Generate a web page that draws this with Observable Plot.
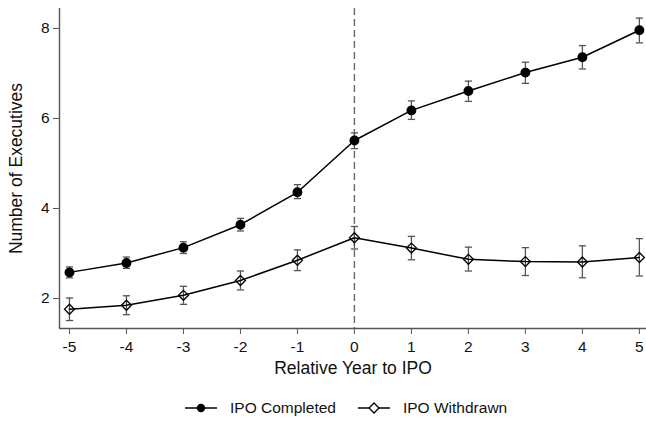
<!DOCTYPE html>
<html>
<head>
<meta charset="utf-8">
<script src="https://cdn.jsdelivr.net/npm/d3@7"></script>
<script src="https://cdn.jsdelivr.net/npm/@observablehq/plot@0.6"></script>
<style>
  html, body { margin: 0; padding: 0; background: #fff; }
  body { width: 646px; height: 421px; position: relative; overflow: hidden; font-family: "Liberation Sans", Arial, sans-serif; }
  #legend { position: absolute; top: 399px; left: 185px; display: flex; align-items: center; font-size: 15.5px; color: #111; }
  .item { display: flex; align-items: center; margin-right: 22px; }
  .item svg { margin-right: 13px; }
</style>
</head>
<body>
<div id="chart"></div>
<div id="legend"></div>
<script>
const years = [-5, -4, -3, -2, -1, 0, 1, 2, 3, 4, 5];
const completed   = [2.58, 2.79, 3.13, 3.64, 4.36, 5.51, 6.18, 6.61, 7.02, 7.36, 7.96];
const completedLo = [2.46, 2.67, 3.00, 3.50, 4.22, 5.33, 5.98, 6.38, 6.78, 7.10, 7.68];
const completedHi = [2.70, 2.92, 3.26, 3.78, 4.53, 5.68, 6.39, 6.83, 7.25, 7.62, 8.23];
const withdrawn   = [1.76, 1.85, 2.07, 2.40, 2.85, 3.35, 3.12, 2.87, 2.82, 2.81, 2.91];
const withdrawnLo = [1.51, 1.64, 1.87, 2.19, 2.62, 3.10, 2.86, 2.61, 2.51, 2.46, 2.50];
const withdrawnHi = [2.01, 2.06, 2.27, 2.61, 3.08, 3.60, 3.38, 3.14, 3.13, 3.17, 3.33];
const seriesNames = ["IPO Completed", "IPO Withdrawn"];
const yTicks = [2, 4, 6, 8];
const xLabel = "Relative Year to IPO";
const yLabel = "Number of Executives";

const rows = [];
years.forEach((yr, i) => {
  rows.push({series: seriesNames[0], x: yr, y: completed[i], lo: completedLo[i], hi: completedHi[i]});
  rows.push({series: seriesNames[1], x: yr, y: withdrawn[i], lo: withdrawnLo[i], hi: withdrawnHi[i]});
});
const rowsC = rows.filter(d => d.series === seriesNames[0]);
const rowsW = rows.filter(d => d.series === seriesNames[1]);

const capSymbol = {
  draw(ctx, size) {
    const r = Math.sqrt(size / Math.PI);
    ctx.moveTo(-r, 0);
    ctx.lineTo(r, 0);
  }
};

const xDomain = [-5.175, 5.125];
const yDomain = [1.333, 8.444];
const axisColor = "#555";
const font = '"Liberation Sans", Arial, sans-serif';

const chart = Plot.plot({
  width: 646,
  height: 385,
  marginLeft: 59,
  marginRight: 0,
  marginTop: 8,
  marginBottom: 57,
  style: {fontFamily: font, color: "#111", background: "#fff"},
  x: {domain: xDomain},
  y: {domain: yDomain},
  marks: [
    Plot.ruleX([0], {stroke: "#6a6a6a", strokeWidth: 1.4, strokeDasharray: "7,4"}),
    Plot.ruleX([xDomain[0]], {stroke: axisColor, strokeWidth: 1.4}),
    Plot.ruleY([yDomain[0]], {stroke: axisColor, strokeWidth: 1.4}),
    Plot.axisY({ticks: yTicks, tickSize: 6, tickPadding: 4, fontSize: 15.5, stroke: axisColor, label: null, tickFormat: d => String(d)}),
    Plot.axisX({ticks: years, tickSize: 6, tickPadding: 6, fontSize: 15.5, stroke: axisColor, label: null, tickFormat: d => String(d)}),
    Plot.text([xLabel], {frameAnchor: "bottom", dy: 45, fontSize: 17.5, fill: "#111", text: d => d}),
    Plot.text([yLabel], {frameAnchor: "left", textAnchor: "middle", dx: -43, rotate: -90, fontSize: 17.5, fill: "#111", text: d => d}),
    // error bars
    Plot.ruleX(rows, {x: "x", y1: "lo", y2: "hi", stroke: axisColor, strokeWidth: 1.3}),
    Plot.dot(rows, {x: "x", y: "lo", symbol: capSymbol, r: 3.6, stroke: axisColor, strokeWidth: 1.3, fill: "none"}),
    Plot.dot(rows, {x: "x", y: "hi", symbol: capSymbol, r: 3.6, stroke: axisColor, strokeWidth: 1.3, fill: "none"}),
    // lines
    Plot.line(rowsC, {x: "x", y: "y", stroke: "#000", strokeWidth: 1.5}),
    Plot.line(rowsW, {x: "x", y: "y", stroke: "#000", strokeWidth: 1.5}),
    // markers
    Plot.dot(rowsC, {x: "x", y: "y", r: 4.2, fill: "#000", stroke: "#000", symbol: "circle"}),
    Plot.dot(rowsW, {x: "x", y: "y", r: 4.5, fill: "none", stroke: "#000", strokeWidth: 1.3, symbol: "diamond2"})
  ]
});
document.getElementById("chart").appendChild(chart);

// legend
const legend = document.getElementById("legend");
seriesNames.forEach((name, i) => {
  const item = document.createElement("div");
  item.className = "item";
  const ns = "http://www.w3.org/2000/svg";
  const s = document.createElementNS(ns, "svg");
  s.setAttribute("width", 32); s.setAttribute("height", 14);
  const l = document.createElementNS(ns, "line");
  l.setAttribute("x1", 0); l.setAttribute("x2", 32); l.setAttribute("y1", 7); l.setAttribute("y2", 7);
  l.setAttribute("stroke", "#000"); l.setAttribute("stroke-width", 1.5);
  s.appendChild(l);
  if (i === 0) {
    const c = document.createElementNS(ns, "circle");
    c.setAttribute("cx", 16); c.setAttribute("cy", 7); c.setAttribute("r", 4.2); c.setAttribute("fill", "#000");
    s.appendChild(c);
  } else {
    const p = document.createElementNS(ns, "path");
    p.setAttribute("d", "M16,2 L21,7 L16,12 L11,7 Z");
    p.setAttribute("fill", "#fff"); p.setAttribute("stroke", "#000"); p.setAttribute("stroke-width", 1.3);
    s.appendChild(p);
  }
  item.appendChild(s);
  const t = document.createElement("span");
  t.textContent = name;
  item.appendChild(t);
  legend.appendChild(item);
});
</script>
</body>
</html>
